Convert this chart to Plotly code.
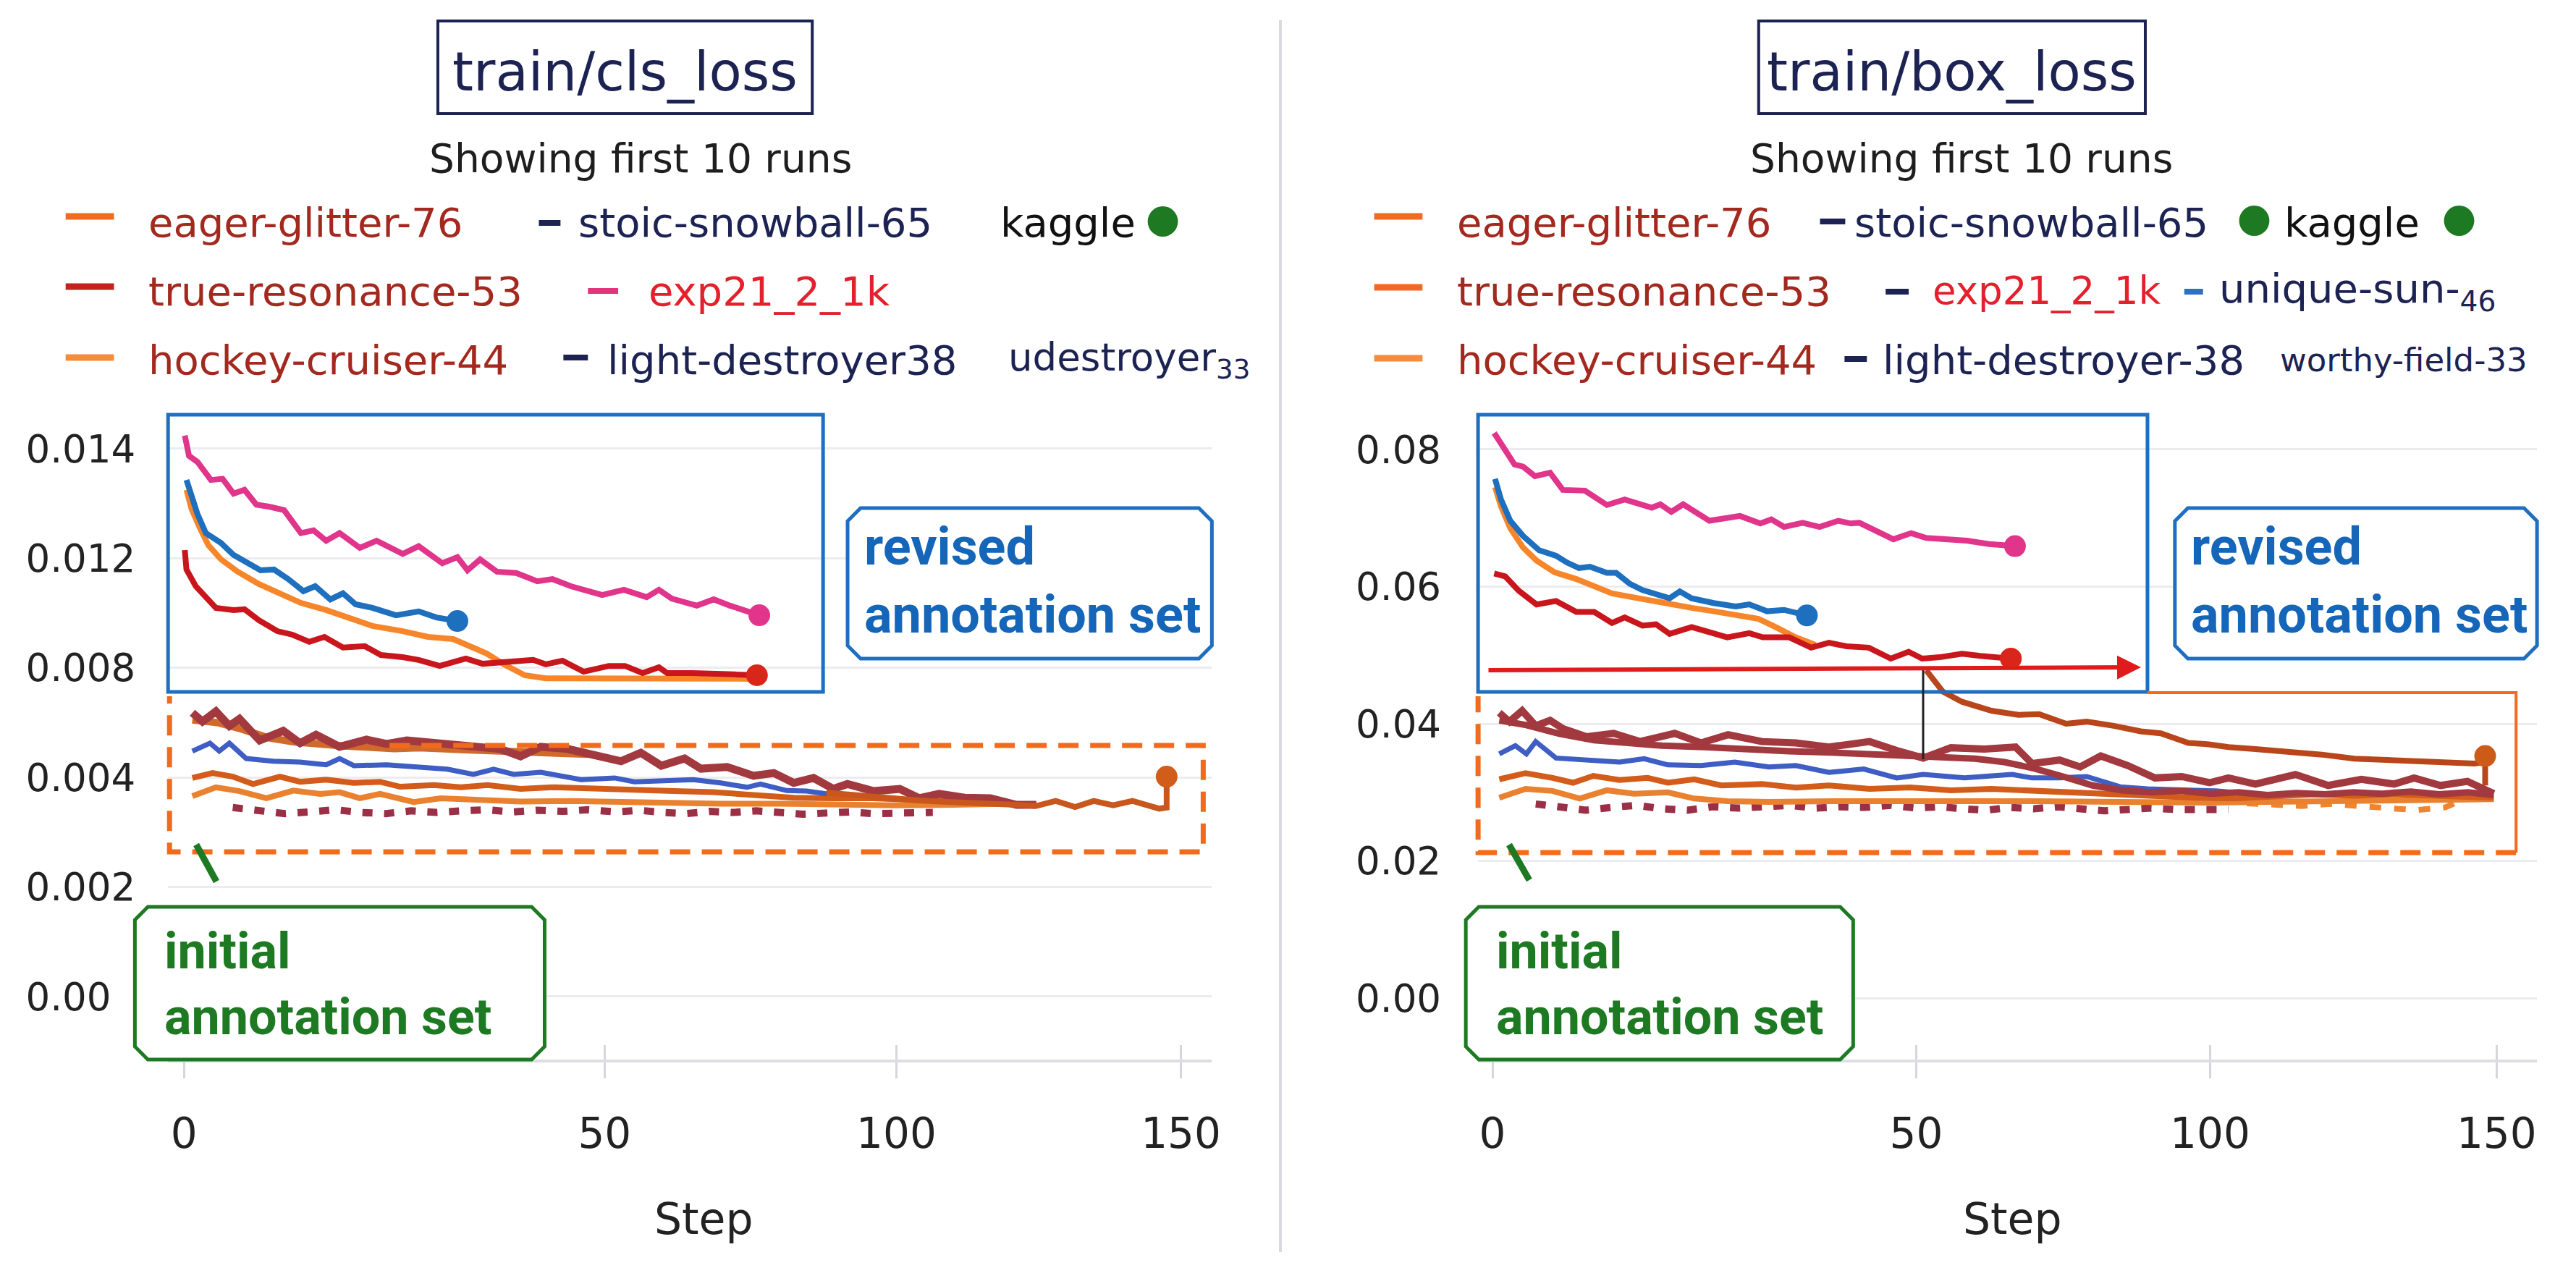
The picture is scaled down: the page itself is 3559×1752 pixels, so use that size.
import numpy as np
import plotly.graph_objects as go

W, H = 3559, 1752

# ------------------------------------------------------------------ data
# x axis: step ticks and their display positions (first interval is stretched in the source)
X_TICK_STEPS = [0, 50, 100, 150]
X_TICK_LABELS = ["0", "50", "100", "150"]
X_TICK_DISPLAY = [0, 63.3, 107.2, 150]

# left panel (train/cls_loss) y ticks (labels are evenly spaced in the source)
L_Y_TICKS = [0.0, 0.002, 0.004, 0.008, 0.012, 0.014]
L_Y_LABELS = ["0.00\u00a0\u00a0", "0.002", "0.004", "0.008", "0.012", "0.014"]
# right panel (train/box_loss) y ticks
R_Y_TICKS = [0.0, 0.02, 0.04, 0.06, 0.08]
R_Y_LABELS = ["0.00", "0.02", "0.04", "0.06", "0.08"]

# ---- train/cls_loss : revised annotation set (inset)
L_PINK_STEPS = [0.1, 0.6, 1.6, 3.2, 4.6, 5.9, 7.2, 8.6, 10.2, 11.9, 13.9, 15.4, 16.9, 18.5, 20.9, 22.9, 26.0, 27.9,
                30.7, 32.5, 33.7, 35.2, 37.2, 39.5, 42.0, 43.8, 46.0, 49.7, 53.3, 57.2, 59.3, 61.5, 65.8, 68.7, 71.5, 76.5]
L_PINK_VALS = [0.01424, 0.01387, 0.01376, 0.01343, 0.01345, 0.01318, 0.01325, 0.01298, 0.01294, 0.01288, 0.01246,
               0.01251, 0.01232, 0.01246, 0.01219, 0.01232, 0.01208, 0.01222, 0.01182, 0.01202, 0.01156, 0.01196,
               0.01151, 0.01146, 0.01116, 0.01124, 0.01098, 0.01066, 0.01085, 0.01058, 0.01085, 0.01053, 0.01027,
               0.01050, 0.01027, 0.00992]
L_BLUE_STEPS = [0.3, 0.9, 1.6, 2.6, 4.4, 5.9, 7.9, 9.1, 10.7, 12.4, 14.2, 15.6, 17.4, 18.9, 20.4, 22.4, 25.2, 27.9,
                30.0, 32.5]
L_BLUE_VALS = [0.01343, 0.01317, 0.01281, 0.01246, 0.01228, 0.01206, 0.01177, 0.01156, 0.01159, 0.01124, 0.01080,
               0.01098, 0.01050, 0.01072, 0.01032, 0.01019, 0.00992, 0.01006, 0.00984, 0.00971]
L_ORANGE_STEPS = [0.3, 0.9, 1.9, 2.9, 4.4, 6.4, 8.9, 11.4, 13.9, 16.9, 19.4, 22.4, 26.0, 29.0, 32.0, 33.9, 36.0, 37.9,
                  40.5, 43.0, 47.0, 51.5, 57.2, 63.0, 68.7, 75.8]
L_ORANGE_VALS = [0.01325, 0.01290, 0.01255, 0.01224, 0.01196, 0.01151, 0.01106, 0.01072, 0.01037, 0.01011, 0.00987,
                 0.00953, 0.00934, 0.00913, 0.00905, 0.00879, 0.00852, 0.00815, 0.00773, 0.00762, 0.00762, 0.00760,
                 0.00762, 0.00760, 0.00760, 0.00760]
L_RED_STEPS = [0.1, 0.3, 1.4, 2.9, 3.8, 5.9, 7.2, 8.9, 11.1, 12.9, 14.9, 16.7, 18.9, 21.5, 23.4, 26.0, 27.9, 30.4,
               33.5, 35.5, 39.0, 41.5, 43.0, 45.0, 47.5, 50.7, 53.5, 56.5, 59.3, 60.7, 65.0, 68.7, 72.2, 76.1]
L_RED_VALS = [0.01215, 0.01159, 0.01098, 0.01045, 0.01019, 0.01011, 0.01014, 0.00974, 0.00934, 0.00921, 0.00895,
              0.00913, 0.00874, 0.00879, 0.00847, 0.00839, 0.00829, 0.00807, 0.00834, 0.00815, 0.00826, 0.00829,
              0.00813, 0.00826, 0.00786, 0.00807, 0.00807, 0.00781, 0.00802, 0.00781, 0.00781, 0.00781, 0.00776,
              0.00773]

# ---- train/cls_loss : initial annotation set (lower bundle)
L_MAROON_STEPS = [1.0, 2.2, 3.8, 5.4, 6.6, 9.0, 11.8, 13.8, 15.7, 18.5, 21.7, 24.1, 26.5, 29.7, 33.7, 37.6, 40.0,
                  42.4, 45.6, 48.8, 52.8, 56.2, 59.7, 63.7, 66.5, 71.0, 75.5, 79.0, 82.4, 85.8, 89.2, 91.6, 96.1,
                  100.6, 104.0, 107.5, 112.0, 116.5, 121.1, 124.6]
L_MAROON_VALS = [0.00636, 0.00604, 0.00641, 0.00588, 0.00614, 0.00535, 0.00570, 0.00525, 0.00556, 0.00512, 0.00538,
                 0.00522, 0.00535, 0.00525, 0.00512, 0.00504, 0.00477, 0.00512, 0.00504, 0.00482, 0.00459, 0.00490,
                 0.00443, 0.00469, 0.00432, 0.00438, 0.00406, 0.00416, 0.00390, 0.00399, 0.00379, 0.00388, 0.00375,
                 0.00379, 0.00362, 0.00370, 0.00363, 0.00362, 0.00350, 0.00350]
L_RUST_STEPS = [1.0, 4.0, 7.0, 10.0, 13.0, 16.0, 19.0, 22.0, 25.0, 28.0, 31.0, 34.0, 37.0, 40.0, 44.0, 48.0]
L_RUST_VALS = [0.00610, 0.00600, 0.00575, 0.00545, 0.00530, 0.00520, 0.00515, 0.00510, 0.00505, 0.00508, 0.00502,
               0.00500, 0.00497, 0.00495, 0.00490, 0.00484]
L_BROWN_STEPS = [88.0, 92.0, 96.0, 100.0, 104.0, 107.5, 112.0, 116.5, 121.1, 124.6, 128.0, 131.4, 134.7, 138.1,
                 141.5, 146.2, 147.5, 147.5]
L_BROWN_VALS = [0.00372, 0.00368, 0.00366, 0.00362, 0.00358, 0.00356, 0.00355, 0.00352, 0.00350, 0.00348, 0.00357,
                0.00346, 0.00357, 0.00349, 0.00357, 0.00343, 0.00345, 0.00403]
L_BLUE2_STEPS = [1.0, 3.1, 4.2, 5.4, 7.4, 10.6, 13.8, 16.9, 18.5, 20.2, 24.1, 28.1, 31.3, 34.4, 36.8, 39.2, 42.4,
                 47.2, 51.7, 55.1, 61.9, 65.2, 69.9, 74.4, 76.7, 81.2, 84.6, 88.1]
L_BLUE2_VALS = [0.00496, 0.00525, 0.00496, 0.00525, 0.00469, 0.00459, 0.00456, 0.00446, 0.00469, 0.00443, 0.00446,
                0.00438, 0.00430, 0.00411, 0.00430, 0.00411, 0.00419, 0.00396, 0.00399, 0.00392, 0.00395, 0.00396,
                0.00390, 0.00382, 0.00388, 0.00376, 0.00375, 0.00370]
L_ORANGE1_STEPS = [1.0, 3.4, 5.8, 8.2, 11.4, 13.8, 16.9, 20.2, 23.3, 25.7, 29.7, 32.9, 36.1, 40.0, 44.0, 48.8, 55.1,
                   61.9, 68.6, 75.5, 82.4, 89.2, 96.1, 102.9, 109.8]
L_ORANGE1_VALS = [0.00399, 0.00416, 0.00403, 0.00388, 0.00403, 0.00392, 0.00396, 0.00390, 0.00392, 0.00383, 0.00386,
                  0.00382, 0.00386, 0.00379, 0.00382, 0.00379, 0.00376, 0.00375, 0.00373, 0.00369, 0.00363, 0.00362,
                  0.00362, 0.00359, 0.00357]
L_ORANGE2_STEPS = [1.0, 3.8, 6.6, 9.8, 13.0, 16.2, 18.5, 20.9, 23.3, 27.3, 30.5, 35.0, 40.0, 46.0, 52.0, 60.0, 70.0,
                   80.0, 90.0, 100.0, 110.0, 120.0]
L_ORANGE2_VALS = [0.00366, 0.00382, 0.00375, 0.00362, 0.00376, 0.00370, 0.00373, 0.00362, 0.00370, 0.00355, 0.00362,
                  0.00358, 0.00356, 0.00357, 0.00355, 0.00354, 0.00352, 0.00352, 0.00350, 0.00349, 0.00350, 0.00352]
L_DOT_STEPS = [5.8, 9, 12, 15, 18, 21, 24, 27, 30, 33, 36, 39, 42, 45, 48, 52, 56, 60, 64, 68, 72, 76, 80, 84, 88, 92,
               96, 100, 104, 106.4]
L_DOT_VALS = [0.00345, 0.00340, 0.00334, 0.00337, 0.00341, 0.00336, 0.00334, 0.00339, 0.00336, 0.00339, 0.00341,
              0.00337, 0.00340, 0.00338, 0.00341, 0.00337, 0.00340, 0.00336, 0.00334, 0.00338, 0.00336, 0.00339,
              0.00336, 0.00333, 0.00335, 0.00337, 0.00334, 0.00336, 0.00335, 0.00336]

# ---- train/box_loss : revised annotation set (inset)
R_PINK_STEPS = [0.2, 1.0, 2.6, 3.6, 5.0, 6.8, 8.3, 10.9, 13.5, 15.6, 18.8, 19.8, 21.1, 22.5, 25.6, 29.2, 31.6, 32.9,
                34.4, 36.6, 38.6, 40.8, 42.3, 43.3, 47.3, 49.4, 51.7, 58.6, 62.4, 66.8]
R_PINK_VALS = [0.0824, 0.0808, 0.0778, 0.0775, 0.0761, 0.0766, 0.0741, 0.0740, 0.0719, 0.0727, 0.0715, 0.0720, 0.0709,
               0.0720, 0.0696, 0.0703, 0.0692, 0.0698, 0.0687, 0.0693, 0.0687, 0.0696, 0.0692, 0.0693, 0.0669, 0.0678,
               0.0671, 0.0667, 0.0662, 0.0659]
R_BLUE_STEPS = [0.3, 1.0, 2.1, 3.6, 5.5, 7.5, 8.8, 10.2, 11.5, 13.5, 14.6, 16.2, 17.7, 19.8, 20.9, 22.1, 23.5, 26.1,
                28.7, 30.3, 32.4, 34.4, 37.1]
R_BLUE_VALS = [0.0757, 0.0727, 0.0696, 0.0674, 0.0653, 0.0645, 0.0635, 0.0627, 0.0629, 0.0620, 0.0620, 0.0604, 0.0595,
               0.0588, 0.0583, 0.0593, 0.0583, 0.0576, 0.0571, 0.0574, 0.0564, 0.0566, 0.0558]
R_ORANGE_STEPS = [0.3, 1.0, 2.1, 3.6, 5.2, 7.3, 9.9, 12.5, 14.1, 17.2, 20.9, 23.5, 26.1, 29.7, 31.4, 33.4, 35.6, 38.1]
R_ORANGE_VALS = [0.0745, 0.0717, 0.0685, 0.0657, 0.0638, 0.0621, 0.0611, 0.0597, 0.0590, 0.0583, 0.0576, 0.0569,
                 0.0564, 0.0557, 0.0553, 0.0541, 0.0527, 0.0515]
R_RED_STEPS = [0.2, 1.5, 3.1, 5.2, 7.5, 9.9, 12.0, 14.1, 15.6, 17.7, 19.3, 20.9, 23.5, 25.6, 27.7, 30.3, 31.9, 35.0,
               37.6, 39.7, 41.8, 44.4, 47.0, 49.1, 51.0, 54.0, 57.8, 60.9, 66.1]
R_RED_VALS = [0.0619, 0.0615, 0.0594, 0.0574, 0.0579, 0.0563, 0.0563, 0.0547, 0.0555, 0.0543, 0.0545, 0.0531, 0.0541,
              0.0534, 0.0526, 0.0532, 0.0526, 0.0526, 0.0511, 0.0518, 0.0513, 0.0511, 0.0495, 0.0505, 0.0495, 0.0497,
              0.0502, 0.0499, 0.0495]

# ---- train/box_loss : initial annotation set (lower bundle)
R_BROWN_STEPS = [51.7, 54.5, 57.8, 60.5, 62.8, 67.4, 70.9, 75.5, 79.0, 83.6, 88.2, 91.6, 96.3, 99.8, 103.2, 107.9,
                 113.6, 119.5, 125.2, 129.9, 134.5, 139.1, 146.1, 148.0, 148.0]
R_BROWN_VALS = [0.0478, 0.0447, 0.0432, 0.0425, 0.0419, 0.0413, 0.0414, 0.0400, 0.0403, 0.0397, 0.0389, 0.0386,
                0.0372, 0.0370, 0.0366, 0.0363, 0.0360, 0.0355, 0.0349, 0.0347, 0.0345, 0.0344, 0.0342, 0.0344, 0.0310]
R_MAROON_STEPS = [0.8, 2.0, 3.5, 5.1, 6.8, 8.3, 11.1, 14.3, 17.4, 21.5, 24.6, 27.8, 31.8, 35.8, 39.7, 44.5, 47.7,
                  51.2, 55.9, 61.6, 66.9, 69.7, 74.4, 77.9, 81.4, 86.0, 90.6, 95.2, 99.9, 103.2, 107.9, 114.9, 120.6,
                  126.4, 132.1, 135.6, 140.2, 144.9, 149.5]
R_MAROON_VALS = [0.0416, 0.0403, 0.0419, 0.0397, 0.0405, 0.0393, 0.0381, 0.0386, 0.0374, 0.0386, 0.0372, 0.0384,
                 0.0374, 0.0372, 0.0366, 0.0374, 0.0361, 0.0350, 0.0365, 0.0363, 0.0366, 0.0342, 0.0347, 0.0337,
                 0.0353, 0.0339, 0.0321, 0.0323, 0.0314, 0.0321, 0.0312, 0.0326, 0.0310, 0.0319, 0.0312, 0.0321,
                 0.0310, 0.0316, 0.0298]
R_MAROON2_STEPS = [0.8, 4, 8, 12, 16, 20, 25, 30, 35, 40, 45, 50, 55, 60, 65, 70, 75, 80, 85, 90, 95, 100, 105, 110,
                   115, 120, 125, 130, 135, 140, 145, 149.5]
R_MAROON2_VALS = [0.0405, 0.0398, 0.0385, 0.0376, 0.0372, 0.0368, 0.0366, 0.0362, 0.0360, 0.0358, 0.0356, 0.0352,
                  0.0352, 0.0349, 0.0344, 0.0335, 0.0323, 0.0310, 0.0303, 0.0300, 0.0302, 0.0298, 0.0300, 0.0296,
                  0.0299, 0.0297, 0.0300, 0.0298, 0.0301, 0.0297, 0.0300, 0.0296]
R_BLUE2_STEPS = [0.8, 2.7, 4.0, 5.1, 7.5, 11.9, 15.0, 17.9, 20.7, 24.6, 28.6, 32.6, 35.8, 39.7, 43.8, 47.7, 51.2,
                 58.2, 66.3, 69.7, 74.4, 79.0, 84.7, 89.4, 95.2, 101.0, 106.7]
R_BLUE2_VALS = [0.0356, 0.0368, 0.0356, 0.0374, 0.0350, 0.0347, 0.0344, 0.0349, 0.0340, 0.0339, 0.0344, 0.0337,
                0.0339, 0.0329, 0.0334, 0.0321, 0.0326, 0.0321, 0.0326, 0.0321, 0.0321, 0.0323, 0.0308, 0.0305,
                0.0303, 0.0302, 0.0298]
R_ORANGE1_STEPS = [0.8, 3.9, 7.1, 9.5, 11.9, 15.0, 18.3, 20.7, 23.8, 27.0, 31.8, 35.8, 39.7, 44.5, 49.3, 55.9, 62.8,
                   69.7, 76.6, 83.6, 90.6, 97.5, 104.5, 111.4, 118.2, 125.2, 132.1, 139.1, 149.5]
R_ORANGE1_VALS = [0.0319, 0.0328, 0.0321, 0.0314, 0.0324, 0.0318, 0.0321, 0.0314, 0.0319, 0.0310, 0.0312, 0.0307,
                  0.0310, 0.0305, 0.0307, 0.0303, 0.0305, 0.0302, 0.0300, 0.0298, 0.0295, 0.0292, 0.0291, 0.0295,
                  0.0297, 0.0295, 0.0297, 0.0295, 0.0292]
R_ORANGE2_STEPS = [0.8, 3.9, 7.1, 10.3, 13.5, 16.7, 20.7, 23.8, 27.7, 32.6, 40, 50, 60, 70, 80, 90, 100, 110, 120,
                   130, 140, 149.5]
R_ORANGE2_VALS = [0.0292, 0.0305, 0.0302, 0.0291, 0.0303, 0.0298, 0.0300, 0.0291, 0.0287, 0.0286, 0.0287, 0.0288,
                  0.0287, 0.0287, 0.0286, 0.0286, 0.0285, 0.0286, 0.0287, 0.0287, 0.0287, 0.0290]
R_DOT_STEPS = [5.1, 8, 11, 14, 17, 20, 23, 26, 29, 32, 35, 38, 41, 44, 47, 50, 54, 58, 62, 66, 70, 74, 78, 82, 86, 90,
               94, 98, 103.2]
R_DOT_VALS = [0.0283, 0.0279, 0.0274, 0.0278, 0.0281, 0.0276, 0.0274, 0.0279, 0.0277, 0.0279, 0.0281, 0.0277, 0.0279,
              0.0278, 0.0281, 0.0277, 0.0279, 0.0276, 0.0274, 0.0278, 0.0276, 0.0279, 0.0276, 0.0273, 0.0275, 0.0277,
              0.0275, 0.0276, 0.0275]
R_ODASH_STEPS = [106.4, 111, 116, 121, 126, 131, 136, 141, 144]
R_ODASH_VALS = [0.0284, 0.0282, 0.0280, 0.0283, 0.0281, 0.0277, 0.0274, 0.0278, 0.0289]

# ------------------------------------------------------------------ helpers
def xmap(steps):
    return np.interp(np.asarray(steps, float), X_TICK_STEPS, X_TICK_DISPLAY)


def ymap_left(vals):
    v = np.asarray(vals, float)
    t = np.asarray(L_Y_TICKS)
    idx = np.arange(len(t), dtype=float)
    out = np.interp(v, t, idx)
    hi = v > t[-1]
    out[hi] = idx[-1] + (v[hi] - t[-1]) / (t[-1] - t[-2])
    lo = v < t[0]
    out[lo] = (v[lo] - t[0]) / (t[1] - t[0])
    return out


def ymap_right(vals):
    return np.asarray(vals, float)


def px(x):
    return x / W


def py(y):
    return 1 - y / H


FONT = "DejaVu Sans"
BOLD = "Roboto"
NAVY = "#1c2353"
RUN_RED = "#a3291f"
GREEN = "#1d7a22"
BLUE_BOX = "#1f6ebf"
ORANGE_BOX = "#f26b1d"

fig = go.Figure()

PANELS = [
    dict(xa="x", ya="y", ymap=ymap_left, traces=[
        (L_DOT_STEPS, L_DOT_VALS, "#9b2f45", 10, "14px,16px"),
        (L_ORANGE2_STEPS, L_ORANGE2_VALS, "#ea812f", 8, None),
        (L_ORANGE1_STEPS, L_ORANGE1_VALS, "#d35c1b", 8, None),
        (L_BLUE2_STEPS, L_BLUE2_VALS, "#3e5ec4", 7, None),
        (L_RUST_STEPS, L_RUST_VALS, "#cf6a2a", 10, None),
        (L_MAROON_STEPS, L_MAROON_VALS, "#a2393f", 11, None),
        (L_BROWN_STEPS, L_BROWN_VALS, "#c9561c", 8, None),
        (L_ORANGE_STEPS, L_ORANGE_VALS, "#f7862b", 8, None),
        (L_RED_STEPS, L_RED_VALS, "#c9161c", 8, None),
        (L_BLUE_STEPS, L_BLUE_VALS, "#1f6fbf", 8, None),
        (L_PINK_STEPS, L_PINK_VALS, "#e0358a", 8, None),
    ], dots=[
        (L_PINK_STEPS[-1], L_PINK_VALS[-1], "#e0358a"),
        (L_BLUE_STEPS[-1], L_BLUE_VALS[-1], "#1f6fbf"),
        (L_RED_STEPS[-1], L_RED_VALS[-1], "#d9261a"),
        (L_BROWN_STEPS[-1], L_BROWN_VALS[-1], "#d25d1a"),
    ]),
    dict(xa="x2", ya="y2", ymap=ymap_right, traces=[
        (R_DOT_STEPS, R_DOT_VALS, "#9b2f45", 10, "14px,16px"),
        (R_ODASH_STEPS, R_ODASH_VALS, "#f0852e", 8, "16px,18px"),
        (R_ORANGE2_STEPS, R_ORANGE2_VALS, "#ea812f", 8, None),
        (R_ORANGE1_STEPS, R_ORANGE1_VALS, "#d35c1b", 8, None),
        (R_BLUE2_STEPS, R_BLUE2_VALS, "#3e5ec4", 7, None),
        (R_MAROON2_STEPS, R_MAROON2_VALS, "#a2393f", 9, None),
        (R_MAROON_STEPS, R_MAROON_VALS, "#a2393f", 10, None),
        (R_BROWN_STEPS, R_BROWN_VALS, "#b9461a", 8, None),
        (R_ORANGE_STEPS, R_ORANGE_VALS, "#f7862b", 8, None),
        (R_RED_STEPS, R_RED_VALS, "#c9161c", 8, None),
        (R_BLUE_STEPS, R_BLUE_VALS, "#1f6fbf", 8, None),
        (R_PINK_STEPS, R_PINK_VALS, "#e0358a", 8, None),
    ], dots=[
        (R_PINK_STEPS[-1], R_PINK_VALS[-1], "#e0358a"),
        (R_BLUE_STEPS[-1], R_BLUE_VALS[-1], "#1f6fbf"),
        (R_RED_STEPS[-1], R_RED_VALS[-1], "#d9261a"),
        (R_BROWN_STEPS[-2], 0.0353, "#cc5a18"),
    ]),
]

for p in PANELS:
    for s, v, c, w, dash in p["traces"]:
        fig.add_trace(go.Scatter(x=xmap(s), y=p["ymap"](v), mode="lines",
                                 line=dict(color=c, width=w, dash=dash, shape="linear"),
                                 xaxis=p["xa"], yaxis=p["ya"], hoverinfo="skip", showlegend=False))
    fig.add_trace(go.Scatter(x=xmap([d[0] for d in p["dots"]]), y=p["ymap"]([d[1] for d in p["dots"]]),
                             mode="markers", marker=dict(size=30, color=[d[2] for d in p["dots"]]),
                             xaxis=p["xa"], yaxis=p["ya"], hoverinfo="skip", showlegend=False))

# empty traces so the overlay tick axes get drawn
for xa, ya in (("x3", "y"), ("x4", "y2")):
    fig.add_trace(go.Scatter(x=[], y=[], xaxis=xa, yaxis=ya, showlegend=False, hoverinfo="skip"))

# ------------------------------------------------------------------ axes
# pixel positions of step 0 / step 150 in each panel
L_X0, L_X150 = 255, 1637
R_X0, R_X150 = 2069, 3461
L_PXU = (L_X150 - L_X0) / 150.0
R_PXU = (R_X150 - R_X0) / 150.0
L_DOM = (233, 1680)
R_DOM = (2049, 3517)
L_RANGE = [(L_DOM[0] - L_X0) / L_PXU, (L_DOM[1] - L_X0) / L_PXU]
R_RANGE = [(R_DOM[0] - R_X0) / R_PXU, (R_DOM[1] - R_X0) / R_PXU]

Y_DOM = [py(1464), py(572)]
axis_common = dict(showgrid=False, zeroline=False, tickvals=X_TICK_DISPLAY, ticktext=X_TICK_LABELS,
                   ticks="outside", ticklen=22, tickwidth=3, tickcolor="#d6d6dd", showline=True,
                   linecolor="#dddde4", linewidth=4, tickfont=dict(family=FONT, size=58, color="#222"),
                   ticklabelstandoff=26)
inside_ticks = dict(showgrid=False, zeroline=False, tickvals=X_TICK_DISPLAY, ticks="inside", ticklen=20,
                    tickwidth=3, tickcolor="#d6d6dd", showline=False, showticklabels=False)
yaxis_common = dict(showgrid=True, gridcolor="#ececf0", gridwidth=3, zeroline=False, ticks="",
                    showline=False, tickfont=dict(family=FONT, size=53, color="#222"), domain=Y_DOM)

fig.update_layout(
    width=W, height=H, margin=dict(l=0, r=0, t=0, b=0),
    paper_bgcolor="white", plot_bgcolor="rgba(0,0,0,0)", showlegend=False,
    xaxis=dict(domain=[px(L_DOM[0]), px(L_DOM[1])], range=L_RANGE, anchor="y", **axis_common),
    yaxis=dict(anchor="x", range=[-0.575, 5.317], tickvals=list(range(len(L_Y_TICKS))), ticktext=L_Y_LABELS,
               ticklabelstandoff=44, **yaxis_common),
    xaxis2=dict(domain=[px(R_DOM[0]), px(R_DOM[1])], range=R_RANGE, anchor="y2", **axis_common),
    yaxis2=dict(anchor="x2", range=[-0.00897, 0.08517], tickvals=R_Y_TICKS, ticktext=R_Y_LABELS,
                ticklabelstandoff=50, **yaxis_common),
    xaxis3=dict(domain=[px(L_DOM[0]), px(L_DOM[1])], range=L_RANGE, anchor="y", overlaying="x", **inside_ticks),
    xaxis4=dict(domain=[px(R_DOM[0]), px(R_DOM[1])], range=R_RANGE, anchor="y2", overlaying="x2", **inside_ticks),
)

# ------------------------------------------------------------------ shapes
shapes = []


def line(x0, y0, x1, y1, color, width, dash=None):
    shapes.append(dict(type="line", xref="paper", yref="paper", x0=px(x0), y0=py(y0), x1=px(x1), y1=py(y1),
                       line=dict(color=color, width=width, dash=dash), layer="above"))


def rect(x0, y0, x1, y1, color, width, fill="rgba(0,0,0,0)"):
    shapes.append(dict(type="rect", xref="paper", yref="paper", x0=px(x0), y0=py(y0), x1=px(x1), y1=py(y1),
                       line=dict(color=color, width=width), fillcolor=fill, layer="above"))


def path(points, color, width, dash=None, close=False, fill="rgba(0,0,0,0)"):
    d = "M " + " L ".join(f"{px(x):.6f},{py(y):.6f}" for x, y in points)
    if close:
        d += " Z"
    shapes.append(dict(type="path", xref="paper", yref="paper", path=d, line=dict(color=color, width=width, dash=dash),
                       fillcolor=fill, layer="above"))


def chamfer(x0, y0, x1, y1, c, color, width):
    pts = [(x0 + c, y0), (x1 - c, y0), (x1, y0 + c), (x1, y1 - c), (x1 - c, y1), (x0 + c, y1), (x0, y1 - c),
           (x0, y0 + c)]
    path(pts, color, width, close=True, fill="white")


def dot(cx, cy, r, color):
    shapes.append(dict(type="circle", xref="paper", yref="paper", x0=px(cx - r), x1=px(cx + r), y0=py(cy + r),
                       y1=py(cy - r), line=dict(width=0), fillcolor=color, layer="above"))


# divider
line(1775, 28, 1775, 1730, "#d9d9df", 4)
# title boxes
rect(607, 29, 1126, 157, NAVY, 4)
rect(2438, 29, 2974, 157, NAVY, 4)

# left panel boxes
rect(233, 573, 1141, 956, BLUE_BOX, 5)
path([(540, 1030), (1668, 1030), (1668, 1177), (235, 1177), (235, 962)], ORANGE_BOX, 7, dash="28px,16px")
chamfer(1175, 702, 1680, 910, 18, BLUE_BOX, 5)
chamfer(187, 1253, 755, 1464, 18, GREEN, 5)
line(272, 1167, 300, 1218, GREEN, 9)

# right panel boxes
rect(2049, 573, 2977, 956, BLUE_BOX, 5)
path([(2977, 957), (3488, 957), (3488, 1178)], ORANGE_BOX, 4)
path([(3488, 1178), (2049, 1178), (2049, 962)], ORANGE_BOX, 7, dash="28px,16px")
chamfer(3015, 702, 3517, 910, 18, BLUE_BOX, 5)
chamfer(2032, 1253, 2569, 1464, 18, GREEN, 5)
line(2092, 1167, 2120, 1216, GREEN, 9)
line(2666, 926, 2666, 1049, "#222222", 3)

# legend glyphs
for (x0, x1), ys, cols in [((91, 158), (299, 396, 494), ("#f26a22", "#c0241c", "#f58b3d")),
                           ((1905, 1972), (299, 397, 495), ("#f26a22", "#f26a22", "#f58b3d"))]:
    for yy, cc in zip(ys, cols):
        line(x0, yy, x1, yy, cc, 9)
for x0, x1, yy, cc in [(747, 777, 308, NAVY), (815, 857, 402, "#e0367c"), (781, 815, 494, NAVY),
                       (2523, 2558, 306, NAVY), (2614, 2646, 403, NAVY), (3028, 3054, 403, "#2f6fc0"),
                       (2557, 2588, 496, NAVY)]:
    line(x0, yy, x1, yy, cc, 8)
dot(1612, 306, 21, GREEN)
dot(3125, 305, 21, GREEN)
dot(3409, 305, 21, GREEN)

fig.update_layout(shapes=shapes)

# ------------------------------------------------------------------ annotations
ann = []


def text(x, y, s, size, color, family=FONT, xanchor="left"):
    ann.append(dict(x=px(x), y=py(y), xref="paper", yref="paper", text=s, showarrow=False, xanchor=xanchor,
                    yanchor="middle", align="left", font=dict(family=family, size=size, color=color)))


text(866, 100, "train/cls_loss", 74, NAVY, xanchor="center")
text(2706, 100, "train/box_loss", 74, NAVY, xanchor="center")
text(888, 219, "Showing first 10 runs", 55, "#1e1e1e", xanchor="center")
text(2719, 219, "Showing first 10 runs", 55, "#1e1e1e", xanchor="center")

R1, R2, R3 = 307, 402, 497
LEG = 56
# left legend
text(204, R1, "eager-glitter-76", LEG, RUN_RED)
text(800, R1, "stoic-snowball-65", LEG, NAVY)
text(1385, R1, "kaggle", LEG, "#111111")
text(204, R2, "true-resonance-53", LEG, RUN_RED)
text(897, R2, "exp21_2_1k", LEG, "#e3202b")
text(204, R3, "hockey-cruiser-44", LEG, RUN_RED)
text(840, R3, "light-destroyer38", LEG, NAVY)
text(1396, R3, "udestroyer<sub>33</sub>", 53, NAVY)
# right legend
text(2018, R1, "eager-glitter-76", LEG, RUN_RED)
text(2569, R1, "stoic-snowball-65", LEG, NAVY)
text(3165, R1, "kaggle", LEG, "#111111")
text(2018, R2, "true-resonance-53", LEG, RUN_RED)
text(2677, R2, "exp21_2_1k", 53, "#e3202b")
text(3074, R2, "unique-sun-<sub>46</sub>", LEG, NAVY)
text(2018, R3, "hockey-cruiser-44", LEG, RUN_RED)
text(2608, R3, "light-destroyer-38", LEG, NAVY)
text(3159, R3, "worthy-field-33", 45, NAVY)

# box labels (two lines each)
for x in (1196, 3035):
    text(x, 803, "<b>revised</b><br><b>annotation set</b>", 72, "#1565b8", family=BOLD)
for x in (226, 2072):
    text(x, 1359, "<b>initial</b><br><b>annotation set</b>", 70, GREEN, family=BOLD)

# axis titles
text(976, 1684, "Step", 60, "#222", xanchor="center")
text(2790, 1684, "Step", 60, "#222", xanchor="center")

# red arrow in right panel
ann.append(dict(x=px(2968), y=py(922), xref="paper", yref="paper", ax=-(2968 - 2065), ay=4, axref="pixel",
                ayref="pixel", text="", showarrow=True, arrowhead=2, arrowsize=1.1, arrowwidth=6,
                arrowcolor="#e01b1b"))

fig.update_layout(annotations=ann)

fig.write_html("out.html")
